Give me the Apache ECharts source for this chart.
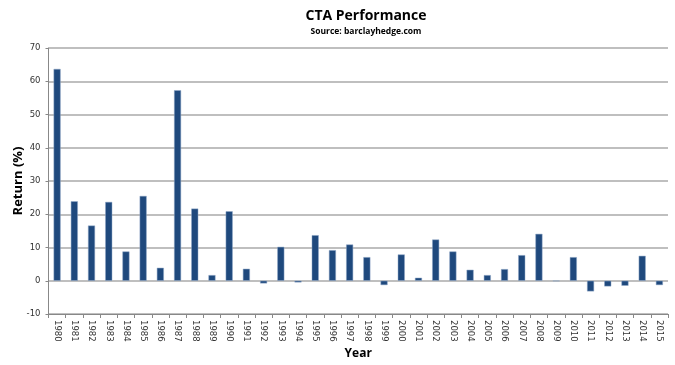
<!DOCTYPE html>
<html>
<head>
<meta charset="utf-8">
<script src="https://cdn.jsdelivr.net/npm/echarts@6/dist/echarts.min.js"></script>
<style>html,body{margin:0;padding:0;background:#fff}#c{width:675px;height:365px}</style>
</head>
<body>
<div id="c"></div>
<script>
const years = ['1980','1981','1982','1983','1984','1985','1986','1987','1988','1989','1990','1991','1992','1993','1994','1995','1996','1997','1998','1999','2000','2001','2002','2003','2004','2005','2006','2007','2008','2009','2010','2011','2012','2013','2014','2015'];
const returns = [63.7,23.9,16.6,23.7,8.8,25.5,3.9,57.3,21.7,1.7,20.9,3.6,-0.8,10.2,-0.5,13.7,9.2,10.9,7.1,-1.3,7.9,0.9,12.4,8.8,3.3,1.7,3.5,7.7,14.1,-0.1,7.1,-3.2,-1.7,-1.5,7.5,-1.3];
const yTicks = {min:-10, max:70, interval:10};

const chart = echarts.init(document.getElementById('c'));
chart.setOption({
  animation:false,
  title:{
    text:'CTA Performance',
    subtext:'Source: barclayhedge.com',
    left:361, top:4, textAlign:'center', itemGap:4,
    textStyle:{fontFamily:'Open Sans', fontWeight:'bold', fontSize:14, color:'#000'},
    subtextStyle:{fontFamily:'Open Sans', fontWeight:'bold', fontSize:8.5, color:'#000'}
  },
  grid:{left:48.5, right:7, top:48, bottom:51, containLabel:false, outerBoundsMode:'none'},
  xAxis:{
    type:'category', data:years,
    name:'Year', nameLocation:'middle', nameGap:34, nameMoveOverlap:false,
    nameTextStyle:{fontFamily:'Open Sans', fontWeight:'bold', fontSize:12, color:'#000'},
    axisLine:{onZero:false, lineStyle:{color:'#888', width:1}},
    axisTick:{show:true, length:4, lineStyle:{color:'#888'}},
    axisLabel:{rotate:-90, fontFamily:'DejaVu Sans', fontSize:8.5, color:'#333', margin:6, interval:0}
  },
  yAxis:{
    type:'value', min:yTicks.min, max:yTicks.max, interval:yTicks.interval,
    name:'Return (%)', nameLocation:'middle', nameGap:24, nameRotate:90, nameMoveOverlap:false,
    nameTextStyle:{fontFamily:'Open Sans', fontWeight:'bold', fontSize:13, color:'#000'},
    axisLine:{show:true, lineStyle:{color:'#888', width:1}},
    axisTick:{show:true, length:3, lineStyle:{color:'#888'}},
    axisLabel:{fontFamily:'DejaVu Sans', fontSize:8.5, color:'#333', margin:8},
    splitLine:{lineStyle:{color:'#aaa', width:1.5}}
  },
  series:[{
    type:'bar', data:returns, barWidth:7,
    itemStyle:{color:'#1f497d', borderColor:'#8ea6c6', borderWidth:0.5}
  }]
});
</script>
</body>
</html>
